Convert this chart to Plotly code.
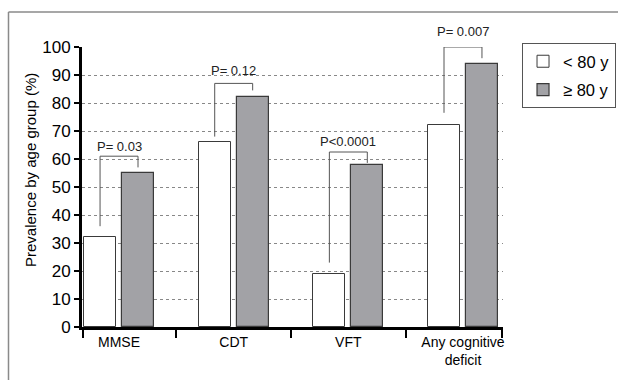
import plotly.graph_objects as go

# ---- data ----
categories = ["MMSE", "CDT", "VFT", "Any cognitive<br>deficit"]
under80 = [32, 66, 19, 72]
over80 = [55, 82, 58, 94]
p_labels = ["P= 0.03", "P= 0.12", "P<0.0001", "P= 0.007"]
bracket_top = [61, 87, 62.5, 100]
bracket_left_end = [36, 68, 23, 76.5]
bracket_right_end = [57, 84.5, 58.6, 96]
p_label_y = [64.6, 91.5, 66.4, 105.7]
y_ticks = list(range(0, 101, 10))
y_title = "Prevalence by age group (%)"

FONT = "Arial, Liberation Sans, sans-serif"
x_pos = list(range(len(categories)))
bar_w = 0.279
off_white = -0.305
off_gray = 0.026
y_lo, y_hi = 0, 100

fig = go.Figure()
fig.add_trace(go.Bar(
    x=x_pos, y=under80, name="< 80 y", width=bar_w, offset=off_white,
    marker=dict(color="white", line=dict(color="#3a3a3a", width=1)),
    legendgroup="a"))
fig.add_trace(go.Bar(
    x=x_pos, y=over80, name="\u2265 80 y", width=bar_w, offset=off_gray,
    marker=dict(color="#a2a2a6", line=dict(color="#3a3a3a", width=1.2)),
    legendgroup="b"))

# significance brackets
bx, by = [], []
for i in x_pos:
    xl = i + off_white + bar_w / 2
    xr = i + off_gray + bar_w / 2
    bx += [xl, xl, xr, xr, None]
    by += [bracket_left_end[i], bracket_top[i], bracket_top[i], bracket_right_end[i], None]
fig.add_trace(go.Scatter(x=bx, y=by, mode="lines", line=dict(color="#555555", width=1),
                         showlegend=False, hoverinfo="skip", cliponaxis=False))

for i in x_pos:
    xc = i + (off_white + off_gray + bar_w) / 2
    fig.add_annotation(x=xc, y=(p_label_y[i] - y_lo) / (y_hi - y_lo), text=p_labels[i],
                       showarrow=False, xref="x", yref="y domain", yanchor="middle",
                       font=dict(family=FONT, size=13, color="#222"))

x_lo, x_hi = -0.323, 3.349
fig.update_xaxes(
    range=[x_lo, x_hi], tickvals=x_pos, ticktext=categories, ticks="",
    showline=True, linecolor="black", linewidth=3, showgrid=False, zeroline=False,
    tickfont=dict(family=FONT, size=14, color="black"), automargin=False,
    minor=dict(tickmode="array", tickvals=[x_lo + 0.005, 0.5, 1.5, 2.5, x_hi - 0.005],
               ticks="outside", ticklen=8, tickwidth=2, tickcolor="black", showgrid=False),
)
fig.update_yaxes(
    range=[y_lo, y_hi], tickvals=y_ticks, ticks="outside", ticklen=5, tickwidth=2,
    tickcolor="black", showline=True, linecolor="black", linewidth=3, automargin=False,
    showgrid=True, gridcolor="#888888", gridwidth=1, griddash="dot", zeroline=False,
    tickfont=dict(family=FONT, size=17, color="black"),
)

# y-axis title placed as in the reference (slightly above the axis centre)
fig.add_annotation(x=-0.1235, y=0.5607, xref="paper", yref="paper", text=y_title,
                   textangle=-90, showarrow=False, xanchor="center", yanchor="middle",
                   font=dict(family=FONT, size=15, color="black"))

# outer frame (top and left edges of the figure panel)
fig.add_shape(type="line", xref="paper", yref="paper", x0=-0.1746, x1=-0.1746, y0=-0.2, y1=1.125,
              line=dict(color="#8a8a8a", width=1.5))
fig.add_shape(type="line", xref="paper", yref="paper", x0=-0.1746, x1=1.28, y0=1.125, y1=1.125,
              line=dict(color="#8a8a8a", width=1.5))

fig.update_layout(
    width=618, height=380,
    margin=dict(l=82, r=115, t=47, b=53),
    plot_bgcolor="white", paper_bgcolor="white",
    barmode="overlay", bargap=0,
    legend=dict(xref="container", yref="container", x=0.8447, y=0.8868,
                xanchor="left", yanchor="top",
                bordercolor="#555555", borderwidth=1, bgcolor="white",
                font=dict(family=FONT, size=16.5, color="black"),
                traceorder="grouped", tracegroupgap=4),
    font=dict(family=FONT),
    showlegend=True,
)

fig.write_html("out.html", config={"displayModeBar": False},
               post_script="document.body.style.margin='0';document.body.style.overflow='hidden';")
